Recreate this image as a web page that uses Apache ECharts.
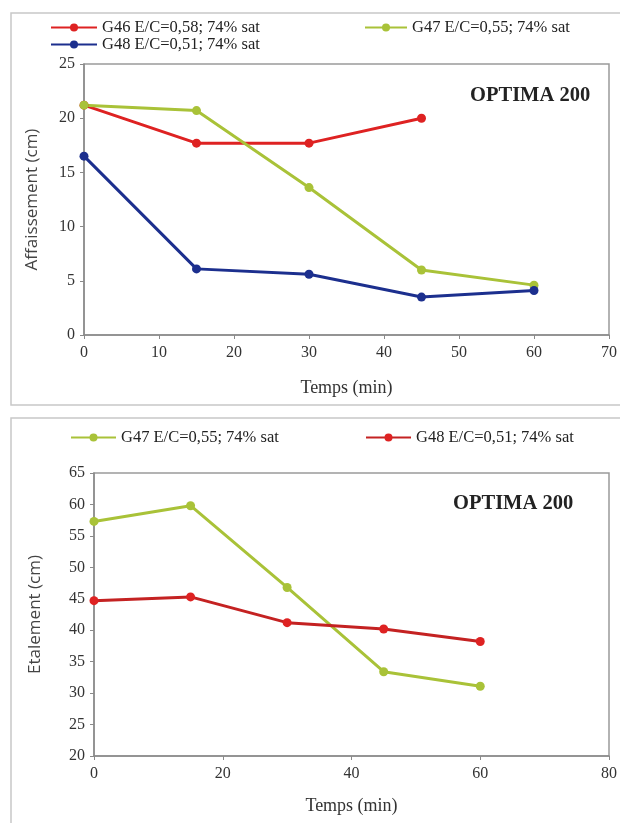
<!DOCTYPE html>
<html>
<head>
<meta charset="utf-8">
<script src="https://cdn.jsdelivr.net/npm/echarts@6/dist/echarts.min.js"></script>
<style>
html,body{margin:0;padding:0;background:#fff;}
#c1{position:absolute;left:0;top:0;width:620px;height:410px;}
#c2{position:absolute;left:0;top:410px;width:620px;height:413px;}
</style>
</head>
<body>
<div id="c1"></div>
<div id="c2"></div>
<script>
// ---- data ----
const timeTop = [0, 15, 30, 45, 60];
const topNames = ['G46 E/C=0,58; 74% sat', 'G47 E/C=0,55; 74% sat', 'G48 E/C=0,51; 74% sat'];
const g46Top = [21.2, 17.7, 17.7, 20.0];
const g47Top = [21.2, 20.7, 13.6, 6.0, 4.6];
const g48Top = [16.5, 6.1, 5.6, 3.5, 4.1];

const timeBottom = [0, 15, 30, 45, 60];
const bottomNames = ['G47 E/C=0,55; 74% sat', 'G48 E/C=0,51; 74% sat'];
const g47Bottom = [57.3, 59.8, 46.8, 33.4, 31.1];
const g48Bottom = [44.7, 45.3, 41.2, 40.2, 38.2];

const topXAxis = {min: 0, max: 70, interval: 10};
const topYAxis = {min: 0, max: 25, interval: 5};
const bottomXAxis = {min: 0, max: 80, interval: 20};
const bottomYAxis = {min: 20, max: 65, interval: 5};

const chartLabel = 'OPTIMA 200';

const RED = '#de2222', GREEN = '#a9c238', BLUE = '#1c2f8e', RED2 = '#c42222';
const SERIF = '"Liberation Serif", "Times New Roman", serif';
const SANS = '"Open Sans", "Liberation Sans", Arial, sans-serif';

function pairs(xs, ys) { return ys.map((y, i) => [xs[i], y]); }

function lineSeries(name, data, color, lineColor) {
  return {
    name: name, type: 'line', data: data,
    symbol: 'circle', symbolSize: 9,
    lineStyle: {color: lineColor || color, width: 3},
    itemStyle: {color: color},
    emphasis: {disabled: true},
    animation: false
  };
}

function axes(xa, ya, xname, yname, yGap, xGap) {
  const axisLine = {show: true, lineStyle: {color: '#8a8a8a', width: 1.5}};
  return {
    xAxis: {
      type: 'value', min: xa.min, max: xa.max, interval: xa.interval,
      name: xname, nameLocation: 'middle', nameGap: xGap,
      nameTextStyle: {fontFamily: SERIF, fontSize: 18, color: '#333'},
      axisLine: axisLine, axisTick: {show: true, length: 4, lineStyle: {color: '#8a8a8a'}},
      axisLabel: {fontFamily: SERIF, fontSize: 16, color: '#333', margin: 10},
      splitLine: {show: false}
    },
    yAxis: {
      type: 'value', min: ya.min, max: ya.max, interval: ya.interval,
      name: yname, nameLocation: 'middle', nameGap: yGap, nameRotate: 90,
      nameTextStyle: {fontFamily: SANS, fontSize: 17, color: '#444'},
      axisLine: axisLine, axisTick: {show: true, length: 4, lineStyle: {color: '#8a8a8a'}},
      axisLabel: {fontFamily: SERIF, fontSize: 16, color: '#333', margin: 9},
      splitLine: {show: false}
    }
  };
}

const legendText = {fontFamily: SERIF, fontSize: 16.5, color: '#222'};
const legendBase = {padding: 0, itemHeight: 10, textStyle: legendText, selectedMode: false};

// ---- top chart ----
const c1 = echarts.init(document.getElementById('c1'), null, {renderer: 'canvas'});
const ax1 = axes(topXAxis, topYAxis, 'Temps (min)', 'Affaissement (cm)', 43, 44);
c1.setOption({
  backgroundColor: '#fff',
  animation: false,
  graphic: [
    {type: 'rect', shape: {x: 11, y: 13, width: 640, height: 392}, style: {fill: 'none', stroke: '#c8c8c8', lineWidth: 1.5}, silent: true},
    {type: 'text', left: 470, top: 85, style: {text: chartLabel, font: 'bold 20.5px ' + SERIF, fill: '#222'}, silent: true}
  ],
  legend: [
    Object.assign({data: [topNames[0], topNames[2]], orient: 'vertical', left: 50, top: 19, itemGap: 0, itemWidth: 46}, legendBase),
    Object.assign({data: [topNames[1]], orient: 'vertical', left: 364, top: 19, itemWidth: 42}, legendBase)
  ],
  grid: {left: 84, right: 10, top: 64, height: 271, show: true, borderColor: '#9a9a9a', borderWidth: 1.5, backgroundColor: '#fff'},
  xAxis: ax1.xAxis,
  yAxis: ax1.yAxis,
  series: [
    lineSeries(topNames[0], pairs(timeTop, g46Top), RED),
    lineSeries(topNames[1], pairs(timeTop, g47Top), GREEN),
    lineSeries(topNames[2], pairs(timeTop, g48Top), BLUE)
  ]
});

// ---- bottom chart ----
const c2 = echarts.init(document.getElementById('c2'), null, {renderer: 'canvas'});
const ax2 = axes(bottomXAxis, bottomYAxis, 'Temps (min)', 'Etalement (cm)', 50, 41);
c2.setOption({
  backgroundColor: '#fff',
  animation: false,
  graphic: [
    {type: 'rect', shape: {x: 11, y: 8, width: 640, height: 440}, style: {fill: 'none', stroke: '#c8c8c8', lineWidth: 1.5}, silent: true},
    {type: 'text', left: 453, top: 83, style: {text: chartLabel, font: 'bold 20.5px ' + SERIF, fill: '#222'}, silent: true}
  ],
  legend: [
    Object.assign({data: [bottomNames[0]], left: 70, top: 19, itemWidth: 45}, legendBase),
    Object.assign({data: [bottomNames[1]], left: 365, top: 19, itemWidth: 45}, legendBase)
  ],
  grid: {left: 94, right: 11, top: 63, height: 283, show: true, borderColor: '#9a9a9a', borderWidth: 1.5, backgroundColor: '#fff'},
  xAxis: ax2.xAxis,
  yAxis: ax2.yAxis,
  series: [
    lineSeries(bottomNames[0], pairs(timeBottom, g47Bottom), GREEN),
    lineSeries(bottomNames[1], pairs(timeBottom, g48Bottom), RED, RED2)
  ]
});
</script>
</body>
</html>
